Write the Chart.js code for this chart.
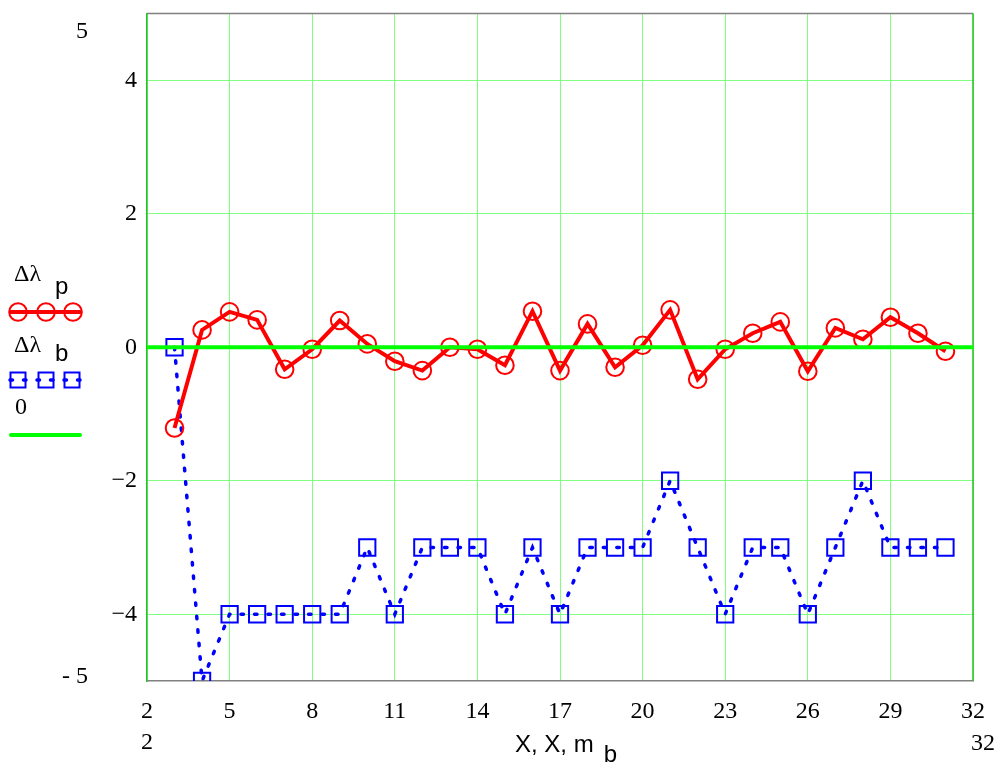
<!DOCTYPE html>
<html>
<head>
<meta charset="utf-8">
<script src="https://cdn.jsdelivr.net/npm/chart.js@4"></script>
<style>
  html, body { margin: 0; padding: 0; background: #fff; }
  #plot { display: block; }
</style>
</head>
<body>
<canvas id="plot" width="999" height="764"></canvas>
<script>
// data
const xIdx = [3, 4, 5, 6, 7, 8, 9, 10, 11, 12, 13, 14, 15, 16, 17, 18, 19, 20, 21, 22, 23, 24, 25, 26, 27, 28, 29, 30, 31];
const dLambdaP = [-1.21, 0.26, 0.53, 0.41, -0.33, -0.03, 0.40, 0.05, -0.21, -0.35, 0.00, -0.03, -0.27, 0.54, -0.35, 0.35, -0.30, 0.03, 0.56, -0.48, -0.03, 0.21, 0.38, -0.36, 0.29, 0.12, 0.45, 0.21, -0.06];
const dLambdaB = [0, -5, -4, -4, -4, -4, -4, -3, -4, -3, -3, -3, -4, -3, -4, -3, -3, -3, -2, -3, -4, -3, -3, -4, -3, -2, -3, -3, -3];
const zeroX = [2, 32];
const zeroY = [0, 0];
const xTicks = [2, 5, 8, 11, 14, 17, 20, 23, 26, 29, 32];
const yTicks = [-4, -2, 0, 2, 4];
const xRange = [2, 32];
const yRange = [-5, 5];

const RED = '#ff0000';
const BLUE = '#0000ff';
const GREEN = '#00ff00';
const serif = '"Liberation Serif", "DejaVu Serif", serif';
const sans = '"Liberation Sans", Arial, sans-serif';

function toPts(xs, ys) {
  return xs.map((x, i) => ({ x: x, y: ys[i] }));
}
function minus(v) {
  return v < 0 ? '\u2212' + Math.abs(v) : String(v);
}

// frame, limit labels, second x row, axis title, legend
const extras = {
  id: 'extras',
  beforeDatasetsDraw(chart) {
    const { ctx, chartArea: a } = chart;
    ctx.save();
    ctx.lineWidth = 1.5;
    ctx.strokeStyle = '#808080';
    ctx.beginPath();
    ctx.moveTo(a.left, a.top);
    ctx.lineTo(a.right, a.top);
    ctx.stroke();
    ctx.strokeStyle = '#22c322';
    ctx.beginPath();
    ctx.moveTo(a.right, a.top);
    ctx.lineTo(a.right, a.bottom);
    ctx.stroke();
    ctx.restore();
  },
  afterDraw(chart) {
    const { ctx } = chart;
    const xs = chart.scales.x, ys = chart.scales.y;
    ctx.save();
    ctx.fillStyle = '#000';
    ctx.font = '24px ' + serif;
    ctx.textBaseline = 'middle';

    // y limits
    ctx.textAlign = 'right';
    ctx.fillText(String(yRange[1]), 88, ys.getPixelForValue(yRange[1]) + 18);
    ctx.fillText('- ' + Math.abs(yRange[0]), 88, ys.getPixelForValue(yRange[0]) - 4);

    // x limits second row
    ctx.textAlign = 'center';
    ctx.fillText(String(xRange[0]), xs.getPixelForValue(xRange[0]), 743);
    ctx.fillText(String(xRange[1]), xs.getPixelForValue(xRange[1]) + 10, 744);

    // axis title
    ctx.font = '24px ' + sans;
    ctx.textAlign = 'left';
    const t = 'X, X, m';
    const tx = 515;
    ctx.fillText(t, tx, 745);
    ctx.fillText('b', tx + ctx.measureText(t).width + 10, 755);

    // legend
    ctx.font = '24px ' + serif;
    ctx.fillText('\u0394\u03bb', 14, 275);
    ctx.fillText('\u0394\u03bb', 14, 346);
    ctx.fillText('0', 15, 408);
    ctx.font = '24px ' + sans;
    ctx.fillText('p', 55, 287);
    ctx.fillText('b', 55, 354);

    ctx.lineCap = 'butt';
    ctx.strokeStyle = RED;
    ctx.lineWidth = 4;
    ctx.beginPath();
    ctx.moveTo(9, 312);
    ctx.lineTo(82, 312);
    ctx.stroke();
    ctx.lineWidth = 2;
    [18, 46, 73].forEach(cx => {
      ctx.beginPath();
      ctx.arc(cx, 312, 8.8, 0, Math.PI * 2);
      ctx.stroke();
    });

    ctx.strokeStyle = BLUE;
    ctx.lineWidth = 3.5;
    ctx.lineCap = 'round';
    ctx.setLineDash([2.5, 11]);
    ctx.beginPath();
    ctx.moveTo(10, 380);
    ctx.lineTo(82, 380);
    ctx.stroke();
    ctx.setLineDash([]);
    ctx.lineCap = 'butt';
    ctx.lineWidth = 2;
    [18, 46, 72].forEach(cx => {
      ctx.strokeRect(cx - 7.5, 380 - 7.5, 15, 15);
    });

    ctx.strokeStyle = GREEN;
    ctx.lineWidth = 4;
    ctx.lineCap = 'round';
    ctx.beginPath();
    ctx.moveTo(11, 435);
    ctx.lineTo(80, 435);
    ctx.stroke();
    ctx.restore();
  }
};

new Chart(document.getElementById('plot'), {
  type: 'line',
  data: {
    datasets: [
      {
        label: '0',
        data: toPts(zeroX, zeroY),
        borderColor: GREEN,
        borderWidth: 4,
        pointRadius: 0
      },
      {
        label: '\u0394\u03bb p',
        data: toPts(xIdx, dLambdaP),
        borderColor: RED,
        borderWidth: 4,
        pointStyle: 'circle',
        pointRadius: 8.8,
        pointBorderWidth: 2,
        pointBorderColor: RED,
        pointBackgroundColor: 'rgba(0,0,0,0)'
      },
      {
        label: '\u0394\u03bb b',
        data: toPts(xIdx, dLambdaB),
        borderColor: BLUE,
        borderWidth: 3.5,
        borderDash: [2.5, 11],
        borderCapStyle: 'round',
        pointStyle: 'rect',
        pointRadius: 11.5,
        pointBorderWidth: 2,
        pointBorderColor: BLUE,
        pointBackgroundColor: 'rgba(0,0,0,0)'
      }
    ]
  },
  options: {
    responsive: false,
    animation: false,
    devicePixelRatio: 1,
    layout: { padding: { left: 0, top: 10, right: 26, bottom: 0 } },
    plugins: {
      legend: { display: false },
      tooltip: { enabled: false }
    },
    scales: {
      x: {
        type: 'linear',
        min: xRange[0],
        max: xRange[1],
        afterBuildTicks: (axis) => { axis.ticks = xTicks.map(v => ({ value: v })); },
        afterFit: (scale) => {
          scale.height = 83;
          scale.paddingLeft = 0;
          scale.paddingRight = 0;
        },
        grid: { color: '#80ff80', lineWidth: 1, drawTicks: false },
        border: { color: '#808080', width: 1.5 },
        ticks: {
          color: '#000',
          font: { family: serif, size: 24 },
          padding: 16,
          maxRotation: 0,
          autoSkip: false
        }
      },
      y: {
        type: 'linear',
        min: yRange[0],
        max: yRange[1],
        afterBuildTicks: (axis) => { axis.ticks = yTicks.map(v => ({ value: v })); },
        afterFit: (scale) => {
          scale.width = 147;
          scale.paddingTop = 0;
          scale.paddingBottom = 0;
        },
        grid: { color: '#80ff80', lineWidth: 1, drawTicks: false },
        border: { color: '#22c322', width: 1.5 },
        ticks: {
          color: '#000',
          font: { family: serif, size: 24 },
          padding: 10,
          callback: (v) => minus(v)
        }
      }
    }
  },
  plugins: [extras]
});
</script>
</body>
</html>
